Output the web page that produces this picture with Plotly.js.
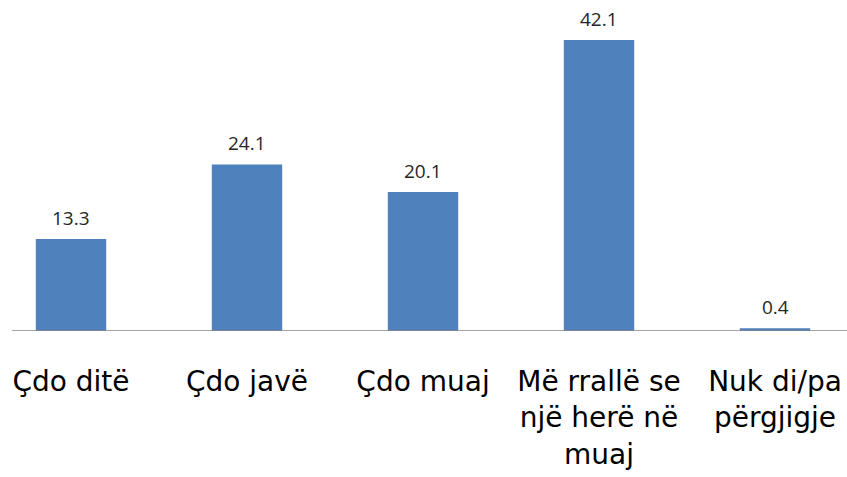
<!DOCTYPE html>
<html>
<head>
<meta charset="utf-8">
<script src="https://cdn.plot.ly/plotly-3.0.1.min.js"></script>
<style>html,body{margin:0;padding:0;background:#fff;}#chart{width:847px;height:477px;}</style>
</head>
<body>
<div id="chart"></div>
<script>
var categories = ["Çdo ditë", "Çdo javë", "Çdo muaj", "Më rrallë se<br>një herë në<br>muaj", "Nuk di/pa<br>përgjigje"];
var values = [13.3, 24.1, 20.1, 42.1, 0.4];
var valueLabels = ["13.3", "24.1", "20.1", "42.1", "0.4"];

var W = 847, H = 477;
var baseY = 331.5, topMargin = 10;
var pxPerUnit = (331.5 - 40) / 42.1;
var yMax = (baseY - topMargin) / pxPerUnit;
var spacing = 176, firstCenter = 71;
var x0 = -firstCenter / spacing;
var x1 = x0 + W / spacing;

var annotations = categories.map(function (c, i) {
  return {
    x: c, y: values[i], text: valueLabels[i], showarrow: false,
    xref: 'x', yref: 'y', yanchor: 'bottom', yshift: 6,
    font: {family: 'Open Sans, sans-serif', size: 19, color: '#262626'}
  };
});

var data = [{
  type: 'bar', x: categories, y: values,
  marker: {color: '#4F81BD'}, hoverinfo: 'none'
}];

var layout = {
  width: W, height: H,
  margin: {l: 0, r: 0, t: topMargin, b: H - baseY},
  paper_bgcolor: '#ffffff', plot_bgcolor: '#ffffff',
  bargap: 0.6,
  showlegend: false,
  xaxis: {
    type: 'category', range: [x0, x1], showline: false, showgrid: false,
    zeroline: false, ticks: '', ticklabelstandoff: 31,
    tickfont: {family: 'DejaVu Sans, sans-serif', size: 28, color: '#000000'}
  },
  yaxis: {
    range: [0, yMax], visible: false, showgrid: false, zeroline: false
  },
  shapes: [{
    type: 'line', xref: 'paper', yref: 'y', x0: 12 / W, x1: 1, y0: 0, y1: 0,
    line: {color: '#868686', width: 1.5}
  }],
  annotations: annotations
};

Plotly.newPlot('chart', data, layout, {staticPlot: true, displayModeBar: false});
</script>
</body>
</html>
